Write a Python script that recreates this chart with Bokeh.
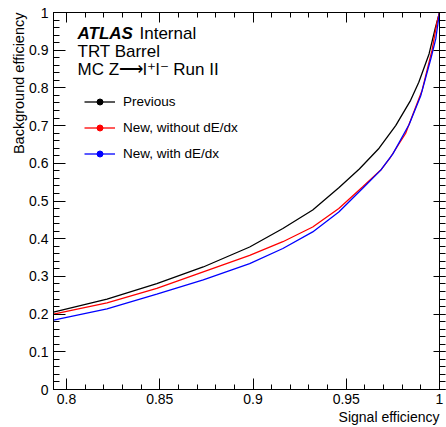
import numpy as np
from bokeh.plotting import figure
from bokeh.models import Range1d, LinearAxis, FixedTicker, Label, Legend, LegendItem, Title
from bokeh.embed import file_html
from bokeh.resources import INLINE

# ---- data ----
prev_sig = [0.793, 0.8217, 0.8484, 0.8733, 0.8982, 0.916, 0.932, 0.946, 0.957,
            0.9676, 0.9765, 0.9845, 0.9889, 0.9944, 0.9978, 1.0]
prev_bkg = [0.205, 0.240, 0.281, 0.325, 0.378, 0.427, 0.476, 0.535, 0.585,
            0.640, 0.700, 0.767, 0.815, 0.890, 0.960, 1.0]

new_nodedx_sig = [0.793, 0.8217, 0.8484, 0.8733, 0.8982, 0.916, 0.932, 0.946, 0.9587,
                  0.9685, 0.9737, 0.9818, 0.9907, 0.996, 0.9987, 1.0]
new_nodedx_bkg = [0.200, 0.230, 0.268, 0.312, 0.356, 0.392, 0.431, 0.480, 0.537,
                  0.582, 0.616, 0.679, 0.794, 0.900, 0.975, 1.0]

new_dedx_sig = [0.793, 0.8217, 0.8484, 0.8733, 0.8982, 0.916, 0.932, 0.946, 0.9587,
                0.9685, 0.975, 0.9837, 0.990, 0.9955, 0.998, 1.0]
new_dedx_bkg = [0.184, 0.214, 0.253, 0.291, 0.334, 0.374, 0.418, 0.471, 0.533,
                0.582, 0.625, 0.703, 0.780, 0.880, 0.930, 1.0]

series_names = ["Previous", "New, without dE/dx", "New, with dE/dx"]
series_colors = ["black", "#ff0000", "#0000ff"]

x_title = "Signal efficiency"
y_title = "Background efficiency"

x_ticks = [0.8, 0.85, 0.9, 0.95, 1.0]
x_tick_labels = ["0.8", "0.85", "0.9", "0.95", "1"]
y_ticks = [0.0, 0.1, 0.2, 0.3, 0.4, 0.5, 0.6, 0.7, 0.8, 0.9, 1.0]
y_tick_labels = ["0", "0.1", "0.2", "0.3", "0.4", "0.5", "0.6", "0.7", "0.8", "0.9", "1"]
x_minor = [round(v, 2) for v in np.arange(0.79, 1.0001, 0.01)]
y_minor = [round(v, 2) for v in np.arange(0.0, 1.0001, 0.02)]

FONT = "Liberation Sans"

p = figure(width=446, height=427, output_backend="svg", toolbar_location=None,
           x_range=Range1d(0.793, 1.0), y_range=Range1d(0.0, 1.0),
           min_border_left=53, min_border_right=7, min_border_top=12, min_border_bottom=38,
           background_fill_color="white", border_fill_color="white")
p.xgrid.visible = False
p.ygrid.visible = False
p.outline_line_color = "black"


def style_axis(ax, ticks, minor, labels, mj_in, mn_in, mj_out=0, mn_out=0, show=True):
    ax.ticker = FixedTicker(ticks=ticks, minor_ticks=minor)
    ax.major_tick_in = mj_in
    ax.major_tick_out = mj_out
    ax.minor_tick_in = mn_in
    ax.minor_tick_out = mn_out
    ax.axis_line_color = "black"
    ax.major_tick_line_color = "black"
    ax.minor_tick_line_color = "black"
    ax.axis_line_width = 1
    ax.major_tick_line_width = 1
    ax.minor_tick_line_width = 1
    if show:
        ax.major_label_overrides = dict(zip(ticks, labels))
        ax.major_label_text_font = FONT
        ax.major_label_text_font_size = "14px"
        ax.major_label_text_color = "black"
    else:
        ax.major_label_overrides = {t: "" for t in ticks}
        ax.major_label_text_font_size = "1px"
        ax.major_label_standoff = 0


xa = p.xaxis[0]
style_axis(xa, x_ticks, x_minor, x_tick_labels, 11, 5)
xa.major_label_standoff = 4

ya = p.yaxis[0]
style_axis(ya, y_ticks, y_minor, y_tick_labels, 12, 6)
ya.major_label_standoff = 5

top_ax = LinearAxis()
style_axis(top_ax, x_ticks, x_minor, x_tick_labels, 10, 5, show=False)
p.add_layout(top_ax, "above")
right_ax = LinearAxis()
style_axis(right_ax, y_ticks, y_minor, y_tick_labels, 6, 0, mj_out=6, mn_out=6, show=False)
p.add_layout(right_ax, "right")

# axis titles, aligned to the axis ends (ROOT style)
for txt, side, size in [(x_title, "below", "14px"), (y_title, "left", "14.5px")]:
    p.add_layout(Title(text=txt, align="right", text_font=FONT, text_font_size=size,
                       text_font_style="normal", text_color="black", standoff=0,
                       offset=0), side)

# ---- curves ----
series = [(prev_sig, prev_bkg), (new_nodedx_sig, new_nodedx_bkg), (new_dedx_sig, new_dedx_bkg)]
items = []
for (xs, ys), name, col in zip(series, series_names, series_colors):
    r_line = p.line(xs, ys, line_color=col, line_width=1.3)
    r_mark = p.scatter(xs, ys, marker="circle", size=6, fill_color=col, line_color=col,
                       visible=False)
    items.append(LegendItem(label=name, renderers=[r_line, r_mark]))

legend = Legend(items=items, location=(31, 228), orientation="vertical",
                padding=0, margin=0, spacing=11, glyph_width=31, glyph_height=15,
                label_height=15, label_standoff=8, label_text_font=FONT,
                label_text_font_size="13.5px", label_text_color="black",
                border_line_alpha=0, background_fill_alpha=0)
p.add_layout(legend)

# ---- texts ----
def add_text(text, x, y, style="normal", size="17px", **kw):
    p.add_layout(Label(x=x, y=y, text=text, text_font=FONT, text_font_style=style,
                       text_font_size=size, text_color="black", **kw))

add_text("ATLAS", 24, 0.945, style="bold italic", x_units="screen", y_units="data",
         text_baseline="alphabetic")
add_text("Internal", 86, 0.945, x_units="screen", y_units="data", text_baseline="alphabetic")
add_text("TRT Barrel", 24, 0.896, x_units="screen", y_units="data", text_baseline="alphabetic")
add_text("MC Z\u27F6l\u207Al\u207B Run II", 24, 0.849, x_units="screen", y_units="data",
         text_baseline="alphabetic")

open("out.html", "w").write(file_html(p, INLINE))
